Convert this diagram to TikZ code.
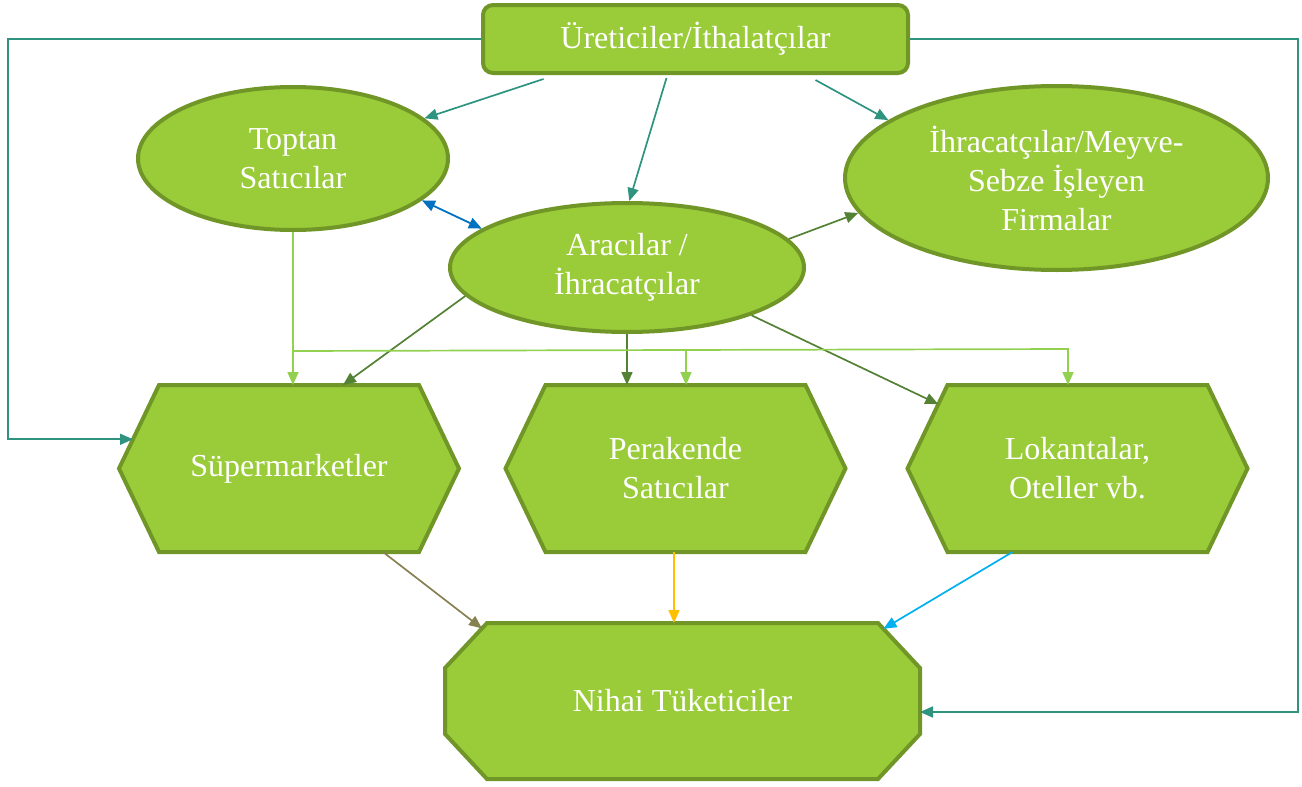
\documentclass[tikz,border=0pt]{standalone}
\usepackage{fontspec}
\setmainfont{Liberation Serif}
\usetikzlibrary{shapes.geometric,arrows.meta,calc,backgrounds}
\definecolor{shfill}{RGB}{154,203,57}
\definecolor{shline}{RGB}{113,150,40}
\definecolor{tealc}{RGB}{46,148,128}
\definecolor{dgreen}{RGB}{84,130,53}
\definecolor{lgreen}{RGB}{146,208,80}
\definecolor{bluec}{RGB}{0,112,192}
\definecolor{olivec}{RGB}{135,128,80}
\definecolor{goldc}{RGB}{255,192,0}
\definecolor{cyanc}{RGB}{0,176,240}
\begin{document}
\begin{tikzpicture}[x=0.5pt,y=-0.5pt,
  lbl/.style={text=white,font=\fontsize{16}{19.5}\selectfont,align=center},
  ell/.style={ellipse,draw=shline,fill=shfill,line width=2pt,lbl,inner sep=0pt},
  box/.style={rectangle,inner sep=0pt,outer sep=0pt,lbl},
  poly/.style={draw=shline,fill=shfill,line width=2pt,line join=miter},
  conn/.style={line width=0.85pt,-{Triangle[length=6.5pt,width=5.5pt]}},
]
\useasboundingbox (0,0) rectangle (1302,787);

% nodes
\node[draw=shline,fill=shfill,line width=2pt,rounded corners=5pt,
      minimum width=212.5pt,minimum height=34pt,lbl] (top) at (695.5,39) {Üreticiler/İthalatçılar};
\node[ell,minimum width=155pt,minimum height=71.5pt] (toptan) at (293,158.5) {Toptan\\Satıcılar};
\node[ell,minimum width=211.5pt,minimum height=92pt] (ihr) at (1056.5,178) {İhracatçılar/Meyve-\\Sebze İşleyen\\Firmalar};
\node[ell,minimum width=177pt,minimum height=64.5pt] (arac) at (627,267.5) {Aracılar /\\İhracatçılar};
\node[box,minimum width=170pt,minimum height=83.5pt] (super) at (289,468.5) {Süpermarketler};
\node[box,minimum width=170pt,minimum height=83.5pt] (perak) at (675.5,468.5) {Perakende\\Satıcılar};
\node[box,minimum width=170pt,minimum height=83.5pt] (lok) at (1077.5,468.5) {Lokantalar,\\Oteller vb.};
\node[box,minimum width=237.5pt,minimum height=78pt] (nih) at (682.5,701) {Nihai Tüketiciler};

\begin{scope}[on background layer]
  \foreach \n in {super,perak,lok} {
    \draw[poly] (\n.west) -- ($(\n.north west)+(40,0)$) -- ($(\n.north east)+(-40,0)$)
      -- (\n.east) -- ($(\n.south east)+(-40,0)$) -- ($(\n.south west)+(40,0)$) -- cycle;
  }
  \draw[poly] ($(nih.north west)+(42,0)$) -- ($(nih.north east)+(-42,0)$)
    -- ($(nih.north east)+(0,45)$) -- ($(nih.south east)+(0,-45)$)
    -- ($(nih.south east)+(-42,0)$) -- ($(nih.south west)+(42,0)$)
    -- ($(nih.south west)+(0,-45)$) -- ($(nih.north west)+(0,45)$) -- cycle;
\end{scope}

% helper coordinates
\coordinate (superNW) at ($(super.north west)+(40,0)$);
\coordinate (lokNW) at ($(lok.north west)+(40,0)$);
\coordinate (nTL) at ($(nih.north west)+(42,0)$);
\coordinate (nLT) at ($(nih.north west)+(0,45)$);
\coordinate (nTR) at ($(nih.north east)+(-42,0)$);
\coordinate (nRT) at ($(nih.north east)+(0,45)$);
\coordinate (sL) at ($(super.west)!0.35!(superNW)$);
\coordinate (lL) at ($(lok.west)!0.77!(lokNW)$);
\coordinate (nE) at ($(nih.east)+(0,11)$);
\coordinate (pS) at ($(perak.south)+(-1.5,0)$);
\coordinate (lc) at (8,0);
\coordinate (rc) at (1298,0);
\coordinate (busL) at (0,351);
\coordinate (busR) at (1068,349);
\coordinate (busP) at (686,350);

% connectors
\draw[conn,tealc] (top.west) -| (lc |- sL) -- (sL);
\draw[conn,tealc] (top.east) -| (rc |- nE) -- (nE);
\draw[conn,tealc] ($(top.south)+(-152,4)$) -- (toptan.17);
\draw[conn,tealc] ($(top.south)+(-29,3)$) -- (arac.88);
\draw[conn,tealc] ($(top.south)+(120,5)$) -- (ihr.161);
\draw[bluec,line width=0.9pt,{Triangle[length=6.5pt,width=5.5pt]}-{Triangle[length=6.5pt,width=5.5pt]}] (toptan.-18) -- (arac.165);
\draw[conn,dgreen] (arac.10) -- (ihr.-170);
\draw[conn,dgreen] (arac.190) -- ($(super.north)+(54,0)$);
\draw[conn,dgreen] (arac.south) -- (arac.south |- perak.north);
\draw[conn,dgreen] (arac.-21) -- (lL);
\draw[conn,lgreen] (toptan.south) -- (toptan.south |- super.north);
\draw[conn,lgreen] (toptan.south |- busL) -- (busR) -- (busR |- lok.north);
\draw[conn,lgreen] (busP) -- (busP |- perak.north);
\draw[conn,olivec] ($(super.south)+(94,0)$) -- ($(nTL)!0.12!(nLT)$);
\draw[conn,goldc] (pS) -- (pS |- nih.north);
\draw[conn,cyanc] ($(lok.south)+(-65,0)$) -- ($(nTR)!0.13!(nRT)$);
\end{tikzpicture}
\end{document}
